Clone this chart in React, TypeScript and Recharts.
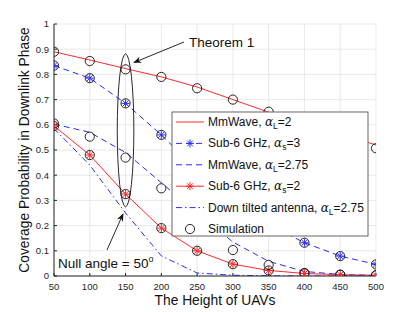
import React from "react";
import { LineChart, Line, XAxis, YAxis, CartesianGrid, ReferenceDot } from "recharts";

const heights = [50, 100, 150, 200, 250, 300, 350, 400, 450, 500];
const yTicks = [0, 0.1, 0.2, 0.3, 0.4, 0.5, 0.6, 0.7, 0.8, 0.9, 1];

// analysis curves
const mmWaveA2 = [0.89, 0.857, 0.823, 0.79, 0.75, 0.7, 0.65, 0.61, 0.565, 0.52];
const sub6A3 = [0.835, 0.785, 0.685, 0.56, 0.42, 0.3, 0.205, 0.132, 0.079, 0.046];
const mmWaveA275 = [0.603, 0.57, 0.49, 0.37, 0.25, 0.135, 0.058, 0.018, 0.006, 0.002];
const sub6A2 = [0.595, 0.48, 0.325, 0.19, 0.1, 0.047, 0.022, 0.01, 0.005, 0.003];
const downTilt = [0.585, 0.44, 0.25, 0.08, 0.012, 0.003, 0.001, 0, 0, 0];

// simulation points
const simMmWaveA2 = [0.89, 0.853, 0.82, 0.79, 0.745, 0.7, 0.652, 0.61, 0.565, 0.507];
const simSub6A3 = [0.835, 0.785, 0.685, 0.56, 0.42, 0.3, 0.205, 0.132, 0.079, 0.046];
const simMmWaveA275 = [0.605, 0.553, 0.47, 0.348, 0.22, 0.103, 0.044, 0.012, 0.005, 0.003];
const simSub6A2 = [0.595, 0.48, 0.325, 0.19, 0.1, 0.047, 0.022, 0.01, 0.005, 0.003];

const data = heights.map((h, i) => ({
  h,
  mmWaveA2: mmWaveA2[i],
  sub6A3: sub6A3[i],
  mmWaveA275: mmWaveA275[i],
  sub6A2: sub6A2[i],
  downTilt: downTilt[i],
  simMmWaveA2: simMmWaveA2[i],
  simSub6A3: simSub6A3[i],
  simMmWaveA275: simMmWaveA275[i],
  simSub6A2: simSub6A2[i],
}));

const RED = "#ff2a2a";
const BLUE = "#2b2bff";
const AXIS = "#262626";
const FONT = "'Liberation Sans', Arial, sans-serif";

function Star({ cx, cy, color }: { cx: number; cy: number; color: string }) {
  const s = 4;
  const d = 2.9;
  return (
    <g stroke={color} strokeWidth={1}>
      <line x1={cx - s} y1={cy} x2={cx + s} y2={cy} />
      <line x1={cx} y1={cy - s} x2={cx} y2={cy + s} />
      <line x1={cx - d} y1={cy - d} x2={cx + d} y2={cy + d} />
      <line x1={cx - d} y1={cy + d} x2={cx + d} y2={cy - d} />
    </g>
  );
}

const starDot = (color: string) => (p: any) =>
  p.cx == null ? <g key={p.key} /> : <Star key={p.key} cx={p.cx} cy={p.cy} color={color} />;

const circleDot = (p: any) =>
  p.cx == null ? <g key={p.key} /> : (
    <circle key={p.key} cx={p.cx} cy={p.cy} r={4.6} fill="none" stroke="#111" strokeWidth={0.9} />
  );

function Alpha({ sub, val }: { sub: string; val: string }) {
  return (
    <>
      <tspan fontFamily="'DejaVu Serif', serif" fontStyle="italic">α</tspan>
      <tspan dy={3} fontSize={8.5}>{sub}</tspan>
      <tspan dy={-3}>{val}</tspan>
    </>
  );
}

function LegendBox() {
  const x0 = 172;
  const y0 = 112;
  const rowY = (i: number) => y0 + 10 + i * 21.4;
  const sx1 = x0 + 4;
  const sx2 = x0 + 32;
  const tx = x0 + 36;
  return (
    <g fontFamily={FONT} fontSize={12} fill="#111">
      <rect x={x0} y={y0} width={196} height={124} fill="#fff" stroke="#555" strokeWidth={0.9} />
      <line x1={sx1} x2={sx2} y1={rowY(0)} y2={rowY(0)} stroke={RED} />
      <text x={tx} y={rowY(0) + 4}>MmWave, <Alpha sub="L" val="=2" /></text>
      <line x1={sx1} x2={sx2} y1={rowY(1)} y2={rowY(1)} stroke={BLUE} strokeDasharray="6 4" />
      <Star cx={(sx1 + sx2) / 2} cy={rowY(1)} color={BLUE} />
      <text x={tx} y={rowY(1) + 4}>Sub-6 GHz, <Alpha sub="s" val="=3" /></text>
      <line x1={sx1} x2={sx2} y1={rowY(2)} y2={rowY(2)} stroke={BLUE} strokeDasharray="6 4" />
      <text x={tx} y={rowY(2) + 4}>MmWave, <Alpha sub="L" val="=2.75" /></text>
      <line x1={sx1} x2={sx2} y1={rowY(3)} y2={rowY(3)} stroke={RED} />
      <Star cx={(sx1 + sx2) / 2} cy={rowY(3)} color={RED} />
      <text x={tx} y={rowY(3) + 4}>Sub-6 GHz, <Alpha sub="s" val="=2" /></text>
      <line x1={sx1} x2={sx2} y1={rowY(4)} y2={rowY(4)} stroke={BLUE} strokeDasharray="6 3 1.5 3" />
      <text x={tx} y={rowY(4) + 4}>Down tilted antenna, <Alpha sub="L" val="=2.75" /></text>
      <circle cx={(sx1 + sx2) / 2} cy={rowY(5)} r={4.6} fill="none" stroke="#111" strokeWidth={0.9} />
      <text x={tx} y={rowY(5) + 4}>Simulation</text>
    </g>
  );
}

function Overlay() {
  return (
    <svg width={415} height={312} style={{ position: "absolute", left: 0, top: 0, pointerEvents: "none" }}>
      <defs>
        <marker id="ah" viewBox="0 0 10 10" refX="9" refY="5" markerWidth="9" markerHeight="9" orient="auto">
          <path d="M0,1 L10,5 L0,9 L3,5 z" fill="#111" />
        </marker>
      </defs>
      <line x1={184} y1={42} x2={134} y2={62.5} stroke="#111" strokeWidth={0.9} markerEnd="url(#ah)" />
      <text x={189} y={47} fontFamily={FONT} fontSize={13.5} fill="#111">Theorem 1</text>
      <line x1={107} y1={250} x2={123} y2={214} stroke="#111" strokeWidth={0.9} markerEnd="url(#ah)" />
      <text x={58} y={268} fontFamily={FONT} fontSize={13.5} fill="#111">
        Null angle = 50<tspan dy={-6} fontSize={9}>o</tspan>
      </text>
      <LegendBox />
      <text
        x={24}
        y={150}
        transform="rotate(-90 24 150)"
        textAnchor="middle"
        dominantBaseline="central"
        fontFamily={FONT}
        fontSize={13.8}
        fill="#111"
      >
        Coverage Probability in Downlink Phase
      </text>
      <text x={215} y={305} textAnchor="middle" fontFamily={FONT} fontSize={13.8} fill="#111">
        The Height of UAVs
      </text>
    </svg>
  );
}

export default function App() {
  const tickStyle = { fill: AXIS, fontSize: 9.5, fontFamily: FONT };
  return (
    <div style={{ position: "absolute", left: 0, top: 0, width: 415, height: 312, background: "#fff" }}>
      <LineChart width={415} height={312} data={data} margin={{ top: 24, right: 39, bottom: 16, left: 14 }}>
        <CartesianGrid stroke="#e3e3e3" strokeWidth={0.8} />
        <XAxis
          dataKey="h"
          type="number"
          domain={[50, 500]}
          ticks={heights}
          height={20}
          tick={tickStyle}
          tickSize={-3}
          tickMargin={10}
          stroke={AXIS}
          allowDataOverflow
        />
        <XAxis
          xAxisId="top"
          orientation="top"
          type="number"
          domain={[50, 500]}
          ticks={heights}
          height={0}
          tick={false}
          tickSize={-3}
          stroke={AXIS}
          allowDataOverflow
        />
        <YAxis
          type="number"
          domain={[0, 1]}
          ticks={yTicks}
          width={40}
          tick={tickStyle}
          tickSize={-3}
          tickMargin={8}
          stroke={AXIS}
          tickFormatter={(v: number) => String(v)}
          allowDataOverflow
        />
        <YAxis
          yAxisId="right"
          orientation="right"
          type="number"
          domain={[0, 1]}
          ticks={yTicks}
          width={0}
          tick={false}
          tickSize={-3}
          stroke={AXIS}
          allowDataOverflow
        />
        <ReferenceDot
          x={150}
          y={0.578}
          shape={(p: any) => (
            <ellipse cx={p.cx} cy={p.cy} rx={8.3} ry={76.5} fill="none" stroke="#111" strokeWidth={0.9} />
          )}
        />
        <Line dataKey="mmWaveA2" stroke={RED} strokeWidth={1} dot={false} isAnimationActive={false} />
        <Line dataKey="sub6A3" stroke={BLUE} strokeWidth={1} strokeDasharray="6 4" dot={starDot(BLUE)} isAnimationActive={false} />
        <Line dataKey="mmWaveA275" stroke={BLUE} strokeWidth={1} strokeDasharray="6 4" dot={false} isAnimationActive={false} />
        <Line dataKey="sub6A2" stroke={RED} strokeWidth={1} dot={starDot(RED)} isAnimationActive={false} />
        <Line dataKey="downTilt" stroke={BLUE} strokeWidth={1} strokeDasharray="6 3 1.5 3" dot={false} isAnimationActive={false} />
        <Line dataKey="simMmWaveA2" stroke="none" dot={circleDot} isAnimationActive={false} />
        <Line dataKey="simSub6A3" stroke="none" dot={circleDot} isAnimationActive={false} />
        <Line dataKey="simMmWaveA275" stroke="none" dot={circleDot} isAnimationActive={false} />
        <Line dataKey="simSub6A2" stroke="none" dot={circleDot} isAnimationActive={false} />
      </LineChart>
      <Overlay />
    </div>
  );
}
